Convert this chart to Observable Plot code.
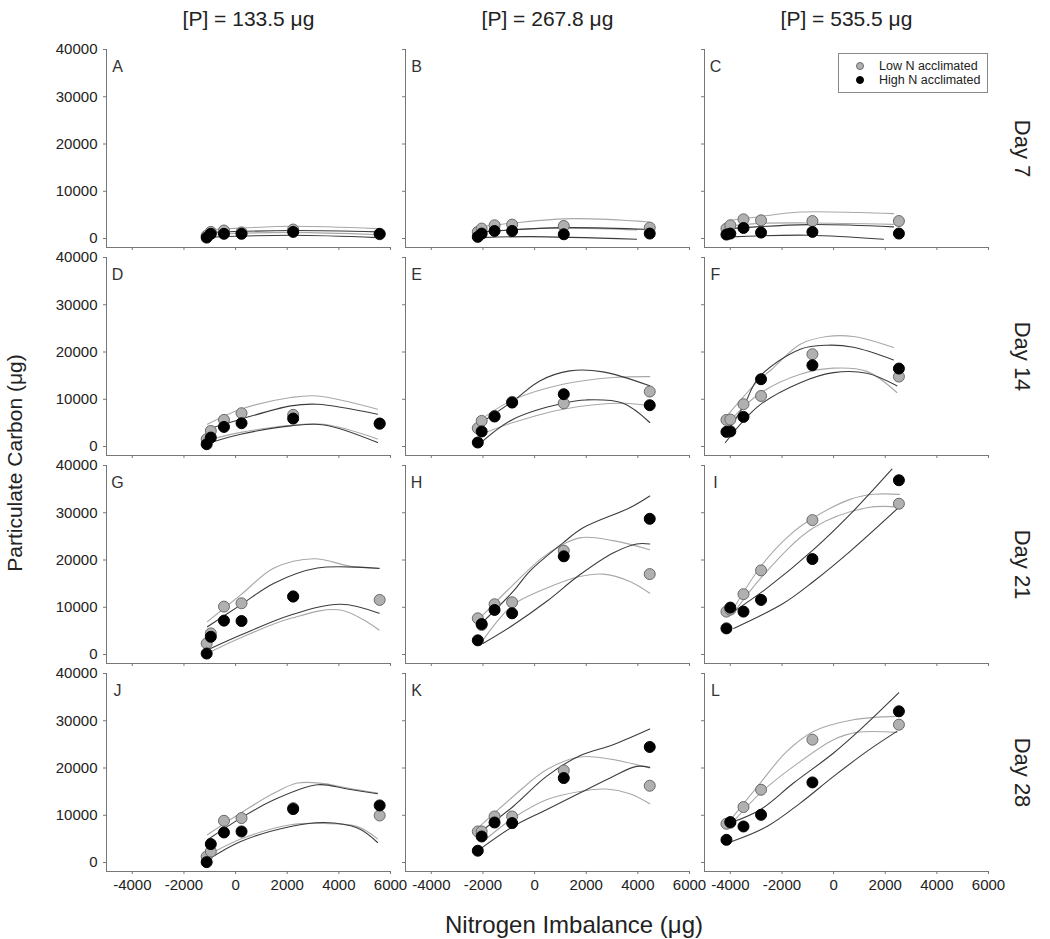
<!DOCTYPE html>
<html><head><meta charset="utf-8">
<script src="https://cdn.jsdelivr.net/npm/d3@7"></script>
<script src="https://cdn.jsdelivr.net/npm/@observablehq/plot@0.6"></script>
<style>
body{margin:0;background:#fff;font-family:"Liberation Sans",Arial,sans-serif;}
#wrap{position:relative;width:1050px;height:939px;overflow:hidden;}
.abs{position:absolute;white-space:nowrap;color:#222;}
#legend{position:absolute;left:838px;top:53px;width:148px;height:38px;border:1px solid #8a8a8a;background:#fff;font-size:12.5px;color:#222;}
#legend .row{position:absolute;left:0;width:148px;height:14px;line-height:14px;white-space:nowrap;}
#legend .dot{position:absolute;left:17px;top:3px;width:8px;height:8px;border-radius:50%;box-sizing:border-box;}
#legend .lab{position:absolute;left:40px;top:0;white-space:nowrap;}
</style></head><body><div id="wrap"></div>
<script>
// ---------- data ----------
const pLevels = ["[P] = 133.5 μg", "[P] = 267.8 μg", "[P] = 535.5 μg"];
const days = ["Day 7", "Day 14", "Day 21", "Day 28"];
const panelLetters = [["A","B","C"],["D","E","F"],["G","H","I"],["J","K","L"]];
const groups = ["Low N acclimated", "High N acclimated"];
const xDomain = [-5000, 6000];
const yDomain = [-1900, 40000];
const xTicks = [-4000, -2000, 0, 2000, 4000, 6000];
const yTicks = [0, 10000, 20000, 30000, 40000];

// nitrogen imbalance (µg) of the six treatments, per [P] level
const nImbalance = [
  [-1120, -960, -450, 230, 2230, 5580],
  [-2200, -2050, -1550, -870, 1130, 4460],
  [-4150, -4000, -3490, -2810, -820, 2530]
];
// particulate carbon (µg), [day][P][treatment]
const lowNCarbon = [
  [[600,1400,1700,1300,1900,900],[1400,2100,2800,2950,2650,2300],[2100,2800,4060,3850,3700,3700]],
  [[1550,3300,5630,7050,6700,4800],[3870,5420,6480,9440,9160,11640],[5630,5700,8950,10700,19530,14800]],
  [[2340,4470,10140,10850,12300,11560],[7660,6240,10640,11060,21980,17020],[9080,9500,12770,17800,28440,31910]],
  [[1270,2330,8830,9400,11520,9960],[6570,6570,9750,9750,19490,16250],[8200,8400,11740,15400,26000,29170]]
];
const highNCarbon = [
  [[200,1000,1000,1000,1400,1000],[350,1050,1600,1600,900,1050],[840,1050,2230,1260,1400,1050]],
  [[490,1900,4150,4930,5920,4870],[850,3180,6350,9300,11070,8740],[3100,3200,6270,14240,17200,16500]],
  [[210,3760,7170,7090,12270,null],[3000,6450,9430,8720,20780,28720],[5530,9930,9080,11560,20210,36880]],
  [[80,3900,6360,6570,11310,12080],[2500,5510,8470,8340,17880,24450],[4800,8560,7630,10100,16950,32000]]
];

// confidence band curves, [day][P] -> [[x, y], ...]
const lowUpperBand = [
  [[[-1000,1900],[200,2200],[2200,2600],[5500,2100]],
   [[-2050,2500],[-800,3300],[1500,4200],[4460,3500]],
   [[-4060,3800],[-2900,4600],[-1300,5600],[1000,5500],[2320,5260]]],
  [[[-1090,4720],[200,7900],[2140,10370],[3170,10700],[5500,7900]],
   [[-2060,5800],[-830,9900],[1100,13190],[3040,14600],[4460,14800]],
   [[-4130,6500],[-2900,14000],[-2390,16360],[-1290,21650],[-260,23280],[770,23280],[2320,20950]]],
  [[[-1090,6950],[200,12620],[1490,18300],[3040,20280],[4460,18650],[5560,18300]],
   [[-2060,8020],[-830,14750],[460,21130],[1750,24680],[3040,24110],[4460,22190]],
   [[-3870,9790],[-2770,19000],[-1680,25380],[-780,28940],[640,32830],[1550,33900],[2550,33900]]],
  [[[-1090,5870],[200,10470],[1490,14700],[2400,16820],[3430,16700],[4330,15760],[5500,14700]],
   [[-2130,7630],[-830,13980],[460,19640],[1750,22330],[2910,21910],[4460,20000]],
   [[-3940,9400],[-2840,16820],[-1810,23520],[-780,27750],[770,30230],[2450,30930]]]
];
const lowLowerBand = [
  [[[-1000,900],[2200,1300],[5500,800]],
   [[-2000,1400],[-800,1900],[1500,2200],[3950,1800]],
   [[-4060,2600],[-2900,3200],[-1000,3300],[2320,3000]]],
  [[[-960,1550],[200,3000],[2140,4500],[3430,4700],[5500,1600]],
   [[-1870,3000],[-830,5080],[1100,7900],[3430,9160],[4460,8600]],
   [[-4130,4720],[-2900,11070],[-1290,15300],[0,16580],[1290,15900],[2450,11430]]],
  [[[-965,570],[200,3550],[2140,7660],[4070,9430],[5560,5180]],
   [[-2000,3040],[-830,10500],[460,14040],[1750,16520],[2650,17020],[3690,15470],[4460,12980]],
   [[-3870,8800],[-2770,16500],[-780,26810],[1290,31060],[2550,31200]]],
  [[[-1030,1630],[200,4960],[2140,7990],[3430,8260],[4720,7600],[5500,5000]],
   [[-2000,4450],[-830,9400],[460,13280],[1750,15040],[2780,15550],[3690,14550],[4460,12430]],
   [[-3940,8340],[-2840,14700],[-1550,20340],[0,26000],[900,27540],[2450,27540]]]
];
const highUpperBand = [
  [[[-1000,1300],[2200,1700],[5500,1400]],
   [[-2050,1400],[1100,2300],[4460,1900]],
   [[-4000,2100],[-970,2950],[2320,2460]]],
  [[[-1090,3660],[200,5780],[2140,8600],[3170,8950],[5500,6840]],
   [[-2060,5080],[-830,9650],[200,13880],[1360,16000],[2650,15800],[4460,12840]],
   [[-4190,2600],[-3480,8600],[-2900,14600],[-1290,20600],[-260,21440],[770,21000],[2320,18330]]],
  [[[-1090,5890],[200,10500],[1490,15100],[3170,18300],[5560,18200]],
   [[-2060,6600],[-830,13340],[-190,17600],[1100,23620],[1880,26810],[3690,31060],[4460,33550]],
   [[-3870,9080],[-2580,14040],[-780,22190],[640,29650],[2260,39220]]],
  [[[-1090,4810],[200,9400],[1490,13280],[3170,16460],[4330,15550],[5500,14550]],
   [[-2130,6360],[-830,11860],[460,18220],[1750,22600],[3040,24940],[4460,28260]],
   [[-3940,8500],[-2840,11170],[-1550,16820],[0,23170],[1030,28110],[2520,35890]]]
];
const highLowerBand = [
  [[[-1000,300],[2200,700],[5500,200]],
   [[-2000,200],[-200,400],[3950,-150]],
   [[-4000,350],[-970,700],[1930,-150]]],
  [[[-960,850],[200,2600],[2140,4360],[3430,4570],[5500,850]],
   [[-2000,1190],[-830,5780],[1100,9160],[2000,9860],[3430,9160],[4460,5080]],
   [[-4190,850],[-2900,8600],[-1290,13520],[0,15640],[1290,15500],[2450,12840]]],
  [[[-965,1280],[200,4110],[2140,8370],[4070,10640],[5560,8720]],
   [[-2000,2340],[-830,6240],[460,11210],[1750,16870],[3040,21490],[3950,23400],[4460,23400]],
   [[-3870,5530],[-1940,10850],[-780,15460],[640,21840],[2550,31270]]],
  [[[-1030,720],[200,4450],[2140,7630],[3430,8470],[4720,7290],[5500,4240]],
   [[-2060,3050],[-830,7630],[460,11170],[1750,14700],[3040,18220],[3950,20340],[4460,20130]],
   [[-3940,4450],[-2580,7630],[-1290,12580],[0,18220],[1290,23520],[2450,27750]]]
];

// ---------- tables built from the arrays ----------
const pointRows = [];
days.forEach((day, di) => pLevels.forEach((p, pi) => nImbalance[pi].forEach((xv, ti) => {
  const lo = lowNCarbon[di][pi][ti], hi = highNCarbon[di][pi][ti];
  if (lo != null) pointRows.push({day, p, group: groups[0], x: xv, y: lo});
  if (hi != null) pointRows.push({day, p, group: groups[1], x: xv, y: hi});
})));
const lineRows = [];
[[groups[0], "upper", lowUpperBand], [groups[0], "lower", lowLowerBand],
 [groups[1], "upper", highUpperBand], [groups[1], "lower", highLowerBand]].forEach(([g, b, arr]) =>
  days.forEach((day, di) => pLevels.forEach((p, pi) => arr[di][pi].forEach(([xv, yv]) =>
    lineRows.push({day, p, group: g, key: `${day}|${p}|${g}|${b}`, x: xv, y: yv})))));
const letterRows = days.flatMap((day, di) => pLevels.map((p, pi) => ({day, p, letter: panelLetters[di][pi]})));

const chart = Plot.plot({
  width: 1050, height: 939,
  marginLeft: 105, marginRight: 62, marginTop: 48, marginBottom: 66,
  style: {fontFamily: "'Liberation Sans', Arial, sans-serif", fontSize: "15px", color: "#222", background: "white", overflow: "visible"},
  fx: {domain: pLevels, paddingInner: 0.0518, paddingOuter: 0, axis: null},
  fy: {domain: days, paddingInner: 0.0464, paddingOuter: 0, axis: null},
  x: {domain: xDomain, label: null},
  y: {domain: yDomain, label: null},
  marks: [
    Plot.ruleX(xDomain.slice(0, 1), {stroke: "#777", strokeWidth: 1}),
    Plot.ruleY(yDomain.slice(0, 1), {stroke: "#777", strokeWidth: 1}),
    Plot.axisX({ticks: xTicks, tickSize: 3, tickFormat: () => "", facetAnchor: null, label: null, stroke: "#777"}),
    Plot.axisY({ticks: yTicks, tickSize: 3, tickFormat: () => "", facetAnchor: null, label: null, stroke: "#777"}),
    Plot.axisX({ticks: xTicks, tickSize: 0, tickPadding: 8, tickFormat: d => String(d), facetAnchor: "bottom", label: null, fontSize: 15, fill: "#222"}),
    Plot.axisY({ticks: yTicks, tickSize: 0, tickPadding: 9, tickFormat: d => String(d), facetAnchor: "left", label: null, fontSize: 15, fill: "#222"}),
    Plot.line(lineRows.filter(d => d.group === groups[0]), {fx: "p", fy: "day", x: "x", y: "y", z: "key", stroke: "#a8a8a8", strokeWidth: 1.1, curve: "catmull-rom"}),
    Plot.line(lineRows.filter(d => d.group === groups[1]), {fx: "p", fy: "day", x: "x", y: "y", z: "key", stroke: "#3c3c3c", strokeWidth: 1.1, curve: "catmull-rom"}),
    Plot.dot(pointRows.filter(d => d.group === groups[0]), {fx: "p", fy: "day", x: "x", y: "y", r: 5.5, fill: "#b0b0b0", stroke: "#6a6a6a", strokeWidth: 1}),
    Plot.dot(pointRows.filter(d => d.group === groups[1]), {fx: "p", fy: "day", x: "x", y: "y", r: 5.5, fill: "#000", stroke: "#000", strokeWidth: 1}),
    Plot.text(letterRows, {fx: "p", fy: "day", text: "letter", frameAnchor: "top-left", textAnchor: "middle", lineAnchor: "middle", dx: 11, dy: 17, fontSize: 16, fill: "#333"}),
    Plot.text(pLevels, {fx: d => d, fy: () => days[0], text: d => d, frameAnchor: "top", textAnchor: "middle", lineAnchor: "middle", dy: -30, fontSize: 21, fill: "#222"}),
    Plot.text(days, {fx: () => pLevels[2], fy: d => d, text: d => d, frameAnchor: "right", textAnchor: "middle", lineAnchor: "middle", dx: 34, rotate: 90, fontSize: 22, fill: "#222"})
  ]
});
const wrap = document.getElementById("wrap");
wrap.appendChild(chart);

const yTitle = document.createElement("div");
yTitle.className = "abs";
yTitle.textContent = "Particulate Carbon (μg)";
Object.assign(yTitle.style, {left: "15px", top: "463px", fontSize: "21px", transform: "translate(-50%,-50%) rotate(-90deg)"});
wrap.appendChild(yTitle);

const xTitle = document.createElement("div");
xTitle.className = "abs";
xTitle.textContent = "Nitrogen Imbalance (μg)";
Object.assign(xTitle.style, {left: "574px", top: "925px", fontSize: "24px", transform: "translate(-50%,-50%)"});
wrap.appendChild(xTitle);

const legend = document.createElement("div");
legend.id = "legend";
groups.forEach((g, i) => {
  const row = document.createElement("div");
  row.className = "row";
  row.style.top = (5 + i * 14) + "px";
  const dot = document.createElement("span");
  dot.className = "dot";
  dot.style.background = i === 0 ? "#b0b0b0" : "#000";
  dot.style.border = "1px solid " + (i === 0 ? "#6a6a6a" : "#000");
  const lab = document.createElement("span");
  lab.className = "lab";
  lab.textContent = g;
  row.appendChild(dot); row.appendChild(lab);
  legend.appendChild(row);
});
wrap.appendChild(legend);
</script></body></html>
